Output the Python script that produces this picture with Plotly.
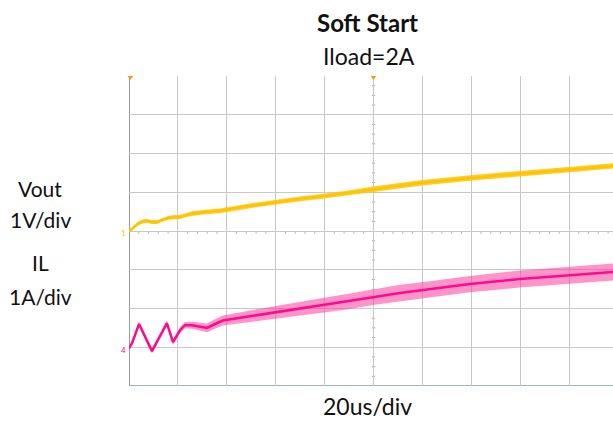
import plotly.graph_objects as go

# ---- data (time in us) ----
vout_t = [0, 1.2, 3.7, 5.7, 7.4, 9.4, 11.5, 13.9, 16.0, 18.8, 20.9, 23.3, 25.8, 31.1, 37.2,
          49.5, 60.1, 69.9, 79.8, 90.4, 99.8, 110.8, 119.0, 139.5, 159.9, 180.4, 198.0]
vout_v = [0.01, 0.05, 0.19, 0.25, 0.26, 0.23, 0.23, 0.30, 0.34, 0.36, 0.36, 0.41, 0.45, 0.49, 0.52,
          0.65, 0.75, 0.83, 0.90, 0.99, 1.08, 1.17, 1.24, 1.37, 1.48, 1.60, 1.68]
vout_noise = [0.04, 0.04, 0.05, 0.05, 0.05, 0.05, 0.05, 0.05, 0.05, 0.05, 0.05, 0.05, 0.06, 0.06, 0.06,
              0.06, 0.06, 0.06, 0.06, 0.06, 0.07, 0.07, 0.07, 0.07, 0.07, 0.07, 0.07]

il_t = [0, 1.2, 4.1, 9.4, 15.5, 18.0, 20.9, 22.9, 25.8, 28.2, 31.9, 35.2, 38.4,
        49.5, 60.1, 69.9, 79.8, 90.4, 99.8, 110.8, 119.8, 139.5, 159.9, 180.4, 198.0]
il_a = [0.03, 0.15, 0.65, -0.05, 0.67, 0.18, 0.49, 0.62, 0.62, 0.59, 0.55, 0.65, 0.74,
        0.85, 0.95, 1.05, 1.14, 1.24, 1.34, 1.45, 1.52, 1.68, 1.81, 1.91, 1.99]
il_noise = [0.05, 0.05, 0.06, 0.06, 0.07, 0.07, 0.08, 0.08, 0.09, 0.10, 0.11, 0.12, 0.13,
            0.15, 0.17, 0.18, 0.19, 0.20, 0.20, 0.21, 0.21, 0.21, 0.22, 0.22, 0.22]

# scope settings
VOUT_OFFSET = 0.0      # divisions
IL_OFFSET = -3.05      # divisions
VOUT_SCALE = 1.0       # V/div
IL_SCALE = 1.0         # A/div
T_DIV = 20             # us/div
N_XDIV = 10
N_YDIV = 8

YEL = "#FFC400"
MAG = "#FF0A8C"
FONT = "Lato"

def div(vals, scale, off):
    return [v / scale + off for v in vals]

vy = div(vout_v, VOUT_SCALE, VOUT_OFFSET)
iy = div(il_a, IL_SCALE, IL_OFFSET)

fig = go.Figure()

# Vout band
fig.add_trace(go.Scatter(x=vout_t, y=[a - b for a, b in zip(vy, vout_noise)], mode="lines",
                         line=dict(width=0, color=YEL), hoverinfo="skip", showlegend=False))
fig.add_trace(go.Scatter(x=vout_t, y=[a + b for a, b in zip(vy, vout_noise)], mode="lines",
                         line=dict(width=0, color=YEL), fill="tonexty",
                         fillcolor="rgba(255,196,0,0.85)", hoverinfo="skip", showlegend=False))
fig.add_trace(go.Scatter(x=vout_t, y=vy, mode="lines", line=dict(width=2.5, color=YEL),
                         name="Vout", showlegend=False))

# IL band
fig.add_trace(go.Scatter(x=il_t, y=[a - b for a, b in zip(iy, il_noise)], mode="lines",
                         line=dict(width=0, color=MAG), hoverinfo="skip", showlegend=False))
fig.add_trace(go.Scatter(x=il_t, y=[a + b for a, b in zip(iy, il_noise)], mode="lines",
                         line=dict(width=0, color=MAG), fill="tonexty",
                         fillcolor="rgba(255,60,160,0.55)", hoverinfo="skip", showlegend=False))
fig.add_trace(go.Scatter(x=il_t, y=iy, mode="lines", line=dict(width=2.5, color=MAG),
                         name="IL", showlegend=False))

# ground / trigger markers
fig.add_trace(go.Scatter(x=[-2.0], y=[VOUT_OFFSET - 0.05], mode="markers",
                         marker=dict(symbol="triangle-right", size=6, color=YEL),
                         cliponaxis=False, hoverinfo="skip", showlegend=False))
fig.add_trace(go.Scatter(x=[-2.0], y=[IL_OFFSET], mode="markers",
                         marker=dict(symbol="triangle-right", size=6, color=MAG),
                         cliponaxis=False, hoverinfo="skip", showlegend=False))
fig.add_trace(go.Scatter(x=[0.6, T_DIV * N_XDIV / 2], y=[N_YDIV / 2 - 0.03, N_YDIV / 2 - 0.03],
                         mode="markers",
                         marker=dict(symbol="triangle-down", size=5, color="#FF9900"),
                         cliponaxis=False, hoverinfo="skip", showlegend=False))

shapes = []
# left border and bottom border
shapes.append(dict(type="line", xref="x", yref="y", x0=0, x1=0, y0=-N_YDIV / 2, y1=N_YDIV / 2,
                   line=dict(color="#7A7A7A", width=1.5), layer="below"))
shapes.append(dict(type="line", xref="x", yref="y", x0=0, x1=T_DIV * N_XDIV, y0=-N_YDIV / 2, y1=-N_YDIV / 2,
                   line=dict(color="#8595B5", width=1.5), layer="below"))
# minor ticks on centre lines
xc = T_DIV * N_XDIV / 2
for k in range(N_XDIV * 5):
    if k % 5 == 0:
        continue
    xx = k * T_DIV / 5
    shapes.append(dict(type="line", xref="x", yref="y", x0=xx, x1=xx, y0=-0.07, y1=0.0,
                       line=dict(color="#B0B0B0", width=1), layer="below"))
for k in range(-N_YDIV * 2, N_YDIV * 2 + 1):
    if k % 4 == 0:
        continue
    yy = k / 4
    shapes.append(dict(type="line", xref="x", yref="y", x0=xc - 0.7, x1=xc + 0.7, y0=yy, y1=yy,
                       line=dict(color="#B0B0B0", width=1), layer="below"))

ann = []
def txt(s, px, py, size, bold=False, color="#111111"):
    # px, py are page pixel positions; plot area spans page x 129..613, y 76..386
    ann.append(dict(text=("<b>%s</b>" % s) if bold else s,
                    x=(px - 129) / 484, y=(386 - py) / 310, xref="paper", yref="paper",
                    xanchor="center", yanchor="middle", showarrow=False,
                    font=dict(family=FONT, size=size, color=color)))

txt("Soft Start", 367, 22, 24, bold=True)
txt("Iload=2A", 369, 56, 23)
txt("20us/div", 367, 406, 23)
txt("Vout", 40, 188, 21)
txt("1V/div", 40, 219, 21)
txt("IL", 40, 262, 21)
txt("1A/div", 40, 296, 21)
txt("1", 123, 233, 8, color=YEL)
txt("4", 123, 350, 8, color=MAG)

fig.update_layout(
    width=613, height=421,
    margin=dict(l=129, r=0, t=76, b=35),
    paper_bgcolor="white", plot_bgcolor="white",
    shapes=shapes, annotations=ann,
    xaxis=dict(range=[0, 198], tickvals=[T_DIV * k for k in range(1, N_XDIV)],
               showticklabels=False, ticks="", showgrid=True, gridcolor="#C8C8C8", gridwidth=1,
               zeroline=False, showline=False, fixedrange=True),
    yaxis=dict(range=[-N_YDIV / 2, N_YDIV / 2], tickvals=list(range(-N_YDIV // 2 + 1, N_YDIV // 2)),
               showticklabels=False, ticks="", showgrid=True, gridcolor="#C8C8C8", gridwidth=1,
               zeroline=False, showline=False, fixedrange=True),
)

# remove the default 8px page margin so the figure fills the window; hide the mode bar
fig.write_html("out.html",
               config={"displayModeBar": False},
               post_script="document.body.style.margin='0';document.body.style.overflow='hidden';")
